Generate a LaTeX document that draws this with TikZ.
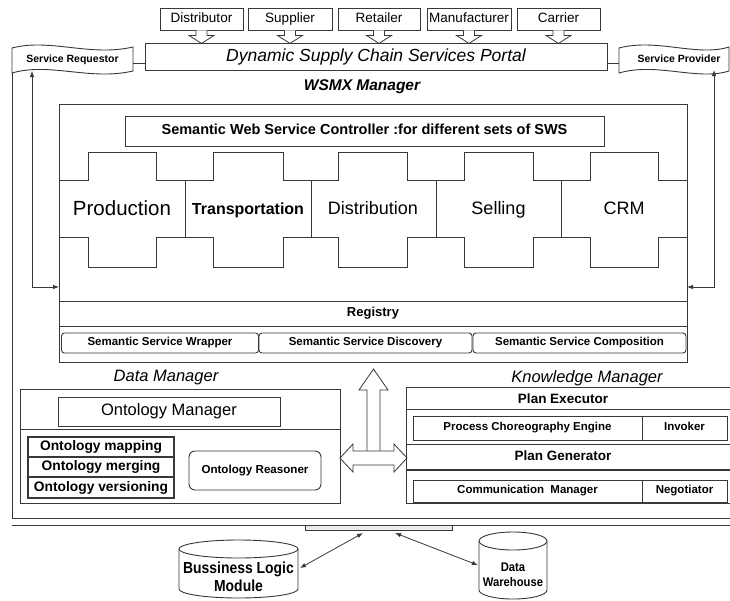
\documentclass[tikz,border=0pt]{standalone}
\usepackage{fontspec}
\usepackage{graphicx}
\setmainfont{Liberation Sans}
\usetikzlibrary{arrows.meta,calc}
\definecolor{lc}{HTML}{383838}
\begin{document}
\begin{tikzpicture}[x=1pt,y=-1pt,
  ln/.style={draw=lc, line width=0.9pt},
  box/.style={ln, inner sep=0pt, fill=white},
  rbox/.style={box, rounded corners=3pt},
  fs/.style={font=\fontsize{#1}{#1}\selectfont, execute at begin node={\vphantom{Ag}}},
  fb/.style={font=\fontsize{#1}{#1}\selectfont\bfseries, execute at begin node={\vphantom{Ag}}},
  arr/.style={draw=lc, line width=0.8pt, {Latex[length=6pt,width=4.5pt]}-{Latex[length=6pt,width=4.5pt]}},
  hollow/.style={draw=lc, line width=0.8pt, fill=white},
  hdown/.pic={\draw[hollow] (-5.5,0) -- (-5.5,5) -- (-12.5,5) -- (0,13) -- (12.5,5) -- (5.5,5) -- (5.5,0);}]
\useasboundingbox (0,0) rectangle (730,600);
\fill[white] (0,0) rectangle (730,600);

% outer container
\draw[ln, line width=1pt] (12,73) -- (12,518) -- (730,518);
\draw[ln, line width=1pt] (12,525) -- (730,525);
\node[draw=lc, fill=black!8, line width=0.8pt, minimum width=147pt, minimum height=5pt, inner sep=0pt] (tray) at (378.5,527.5) {};

% top actors
\node[box, fs=13.5, minimum width=83pt, minimum height=22pt] (dist) at (201.5,19) {Distributor};
\node[box, fs=13.5, minimum width=84pt, minimum height=22pt] (supp) at (290,19) {Supplier};
\node[box, fs=13.5, minimum width=82pt, minimum height=22pt] (ret) at (379,19) {Retailer};
\node[box, fs=13.5, minimum width=84pt, minimum height=22pt] (man) at (469,19) {Manufacturer};
\node[box, fs=13.5, minimum width=83pt, minimum height=22pt] (car) at (558.5,19) {Carrier};
\foreach \n in {dist,supp,ret,man,car} \pic at (\n.south) {hdown};

% portal
\node[box, minimum width=462pt, minimum height=27pt, font=\fontsize{17.5}{17.5}\selectfont\itshape] (portal) at (376,56.5) {Dynamic Supply Chain Services Portal};

% flags
\draw[ln, fill=white] (12,48) .. controls (50,38) and (90,57) .. (133,47) -- (133,71) .. controls (90,81) and (50,62) .. (12,73) -- cycle;
\node[fb=10.5, inner sep=0pt] (req) at (72.5,60) {Service Requestor};
\draw[ln, fill=white] (619,48) .. controls (657,38) and (697,57) .. (729,47) -- (729,71) .. controls (697,81) and (657,62) .. (619,73) -- cycle;
\node[fb=10.5, inner sep=0pt] (prov) at (679,60) {Service Provider};
\coordinate (reqR) at (133,63);
\coordinate (provL) at (619,63);
\draw[ln] (reqR) -- (portal.west |- reqR);
\draw[ln] (provL) -- (portal.east |- provL);

% WSMX
\node[font=\fontsize{15.5}{15.5}\selectfont\bfseries\itshape, inner sep=0pt] (wsmxl) at (362,87) {WSMX Manager};
\node[box, minimum width=628pt, minimum height=258pt] (wsmx) at (373,233) {};
\node[box, fb=14.5, minimum width=479pt, minimum height=30pt] (ctrl) at (364.5,131) {Semantic Web Service Controller :for different sets of SWS};

% puzzle strip
\draw[ln] (59,180) -- (88,180) -- (88,152) -- (156,152) -- (156,180) -- (213,180) -- (213,152) -- (283,152) -- (283,180) -- (338,180) -- (338,152) -- (407,152) -- (407,180) -- (464,180) -- (464,152) -- (533,152) -- (533,180) -- (590,180) -- (590,152) -- (658,152) -- (658,180) -- (687,180);
\draw[ln] (59,237) -- (88,237) -- (88,267) -- (156,267) -- (156,237) -- (213,237) -- (213,267) -- (283,267) -- (283,237) -- (338,237) -- (338,267) -- (407,267) -- (407,237) -- (464,237) -- (464,267) -- (533,267) -- (533,237) -- (590,237) -- (590,267) -- (658,267) -- (658,237) -- (687,237);
\foreach \x in {185,311,436,561} \draw[ln] (\x,180) -- (\x,237);
\node[fs=20.5, inner sep=0pt] (prod) at (122,210) {Production};
\node[fb=16, inner sep=0pt] (trans) at (248,210) {Transportation};
\node[fs=18, inner sep=0pt] (distr) at (373,210) {Distribution};
\node[fs=18, inner sep=0pt] (sell) at (498.5,210) {Selling};
\node[fs=18, inner sep=0pt] (crm) at (624,210) {CRM};

% registry and services
\node[box, fb=13, minimum width=628pt, minimum height=25pt] (reg) at (373,313.5) {Registry};
\node[rbox, fb=11.5, minimum width=197pt, minimum height=20pt] (wrap) at (160,343) {Semantic Service Wrapper};
\node[rbox, fb=11.5, minimum width=213pt, minimum height=20pt] (disc) at (365.5,343) {Semantic Service Discovery};
\node[rbox, fb=11.5, minimum width=213pt, minimum height=20pt] (comp) at (579.5,343) {Semantic Service Composition};

% side arrows
\coordinate (reqA) at (32,71);
\coordinate (wl) at (59,287);
\coordinate (provA) at (714,70);
\coordinate (wr) at (687,287);
\draw[arr] (reqA) |- (wl);
\draw[arr] (provA) |- (wr);

% Data manager
\node[font=\fontsize{16.5}{16.5}\selectfont\itshape, inner sep=0pt] (dml) at (166,378) {Data Manager};
\node[box, minimum width=320pt, minimum height=114pt] (dm) at (180,446) {};
\node[box, fs=16.5, minimum width=222pt, minimum height=29pt] (om) at (169,411.5) {Ontology Manager};
\draw[ln] (dm.west |- 0,429) -- (dm.east |- 0,429);
\node[box, line width=1.2pt, fb=13.8, minimum width=146pt, minimum height=20pt] (omap) at (101,447) {Ontology mapping};
\node[box, line width=1.2pt, fb=13.8, minimum width=146pt, minimum height=20pt] (omer) at (101,467) {Ontology merging};
\node[box, line width=1.2pt, fb=13.8, minimum width=146pt, minimum height=21pt] (over) at (101,487.5) {Ontology versioning};
\node[box, rounded corners=6pt, fb=11.6, minimum width=132pt, minimum height=39pt] (oreas) at (255,470.5) {Ontology Reasoner};

% Knowledge manager
\node[font=\fontsize{16.5}{16.5}\selectfont\itshape, inner sep=0pt] (kml) at (587,378) {Knowledge Manager};
\node[inner sep=0pt, minimum width=323pt, minimum height=115pt] (km) at (568.5,445.5) {};
\draw[ln] (km.north east) -- (km.north west) -- (km.south west) -- (km.south east);
\node[fb=13.5, inner sep=0pt] (pe) at (563,400) {Plan Executor};
\draw[ln] (km.west |- 0,409) -- (km.east |- 0,409);
\node[box, fb=11.5, minimum width=229pt, minimum height=24pt] (pce) at (527.5,428) {Process Choreography Engine};
\node[box, fb=11.5, minimum width=85pt, minimum height=24pt] (inv) at (684.5,428) {Invoker};
\draw[ln] (km.west |- 0,444) -- (km.east |- 0,444);
\node[fb=13.5, inner sep=0pt] (pg) at (563,457.5) {Plan Generator};
\draw[ln, line width=1.5pt] (km.west |- 0,470) -- (km.east |- 0,470);
\node[box, fb=11.5, minimum width=229pt, minimum height=22pt] (cm) at (527.5,491) {Communication\ \ Manager};
\node[box, fb=11.5, minimum width=85pt, minimum height=22pt] (neg) at (684.5,491) {Negotiator};

% hollow arrows in the middle
\draw[hollow] (367,451) -- (367,390) -- (359,390) -- (373.5,369) -- (388,390) -- (380,390) -- (380,451);
\draw[hollow] (340,458) -- (353,444) -- (353,451) -- (394,451) -- (394,444) -- (407,458) -- (394,472) -- (394,465) -- (353,465) -- (353,472) -- cycle;

% cylinders
\node[inner sep=0pt, minimum width=119pt, minimum height=58pt] (blm) at (238.5,569) {};
\draw[ln, fill=white] (179,549) -- (179,589) .. controls (179,593.97) and (205.64,598) .. (238.5,598) .. controls (271.36,598) and (298,593.97) .. (298,589) -- (298,549);
\draw[ln, fill=white] (238.5,549) ellipse [x radius=59.5, y radius=9];
\node[font=\fontsize{16}{18}\selectfont\bfseries, align=center, inner sep=0pt] (blmt) at (238.5,577) {\scalebox{0.87}[1]{Bussiness Logic}\\\scalebox{0.87}[1]{Module}};

\node[inner sep=0pt, minimum width=68pt, minimum height=67pt] (dw) at (513,565.5) {};
\draw[ln, fill=white] (479,541) -- (479,590) .. controls (479,594.97) and (494.22,599) .. (513,599) .. controls (531.78,599) and (547,594.97) .. (547,590) -- (547,541);
\draw[ln, fill=white] (513,541) ellipse [x radius=34, y radius=9];
\node[font=\fontsize{12.5}{15}\selectfont\bfseries, align=center, inner sep=0pt] (dwt) at (513,575) {\scalebox{0.9}[1]{Data}\\\scalebox{0.9}[1]{Warehouse}};

% bottom connectors
\coordinate (t1) at (363,533);
\coordinate (t2) at (395,533);
\draw[arr, shorten >=2pt] (t1) -- (blm.east);
\draw[arr, shorten >=1pt] (t2) -- (dw.west);
\end{tikzpicture}
\end{document}
